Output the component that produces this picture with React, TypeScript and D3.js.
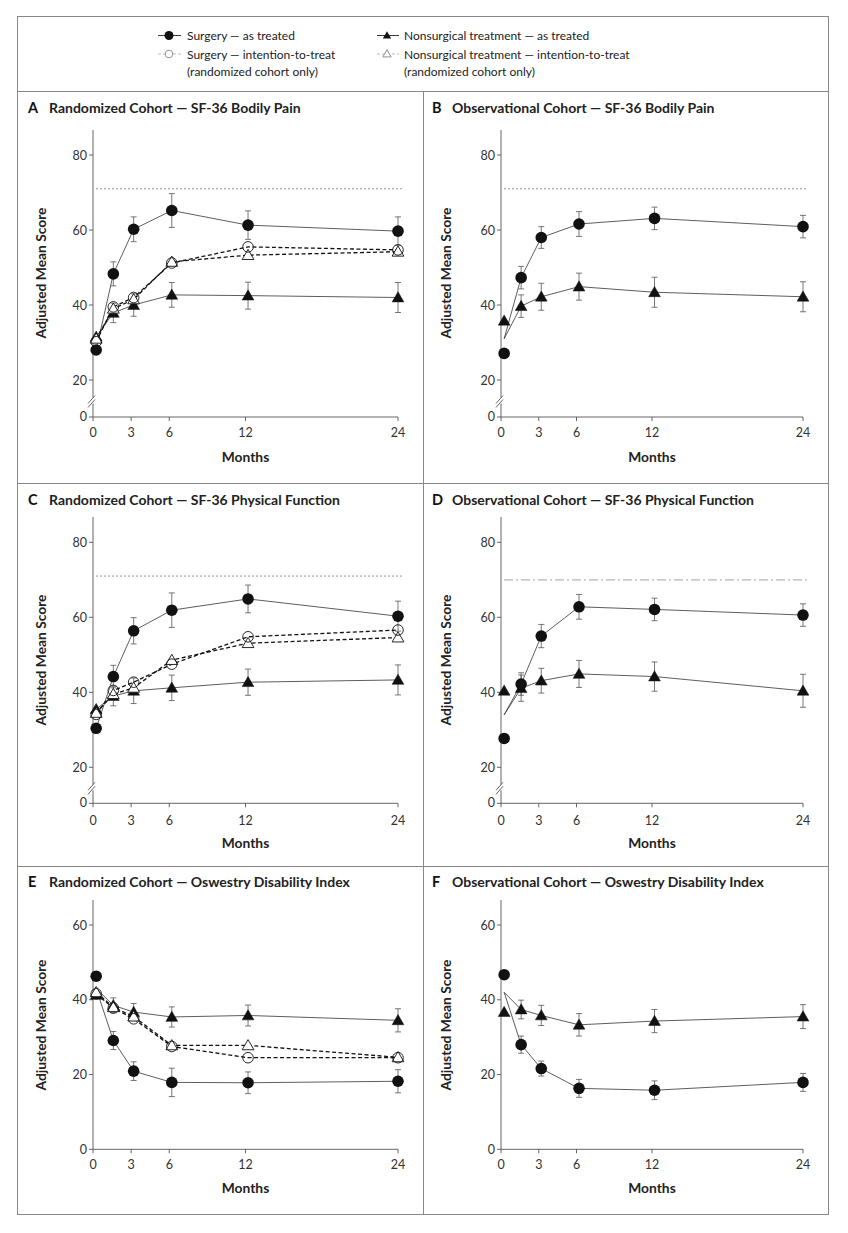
import React from 'react';
import * as d3 from 'd3';

// ---------- DATA ----------
const months = [0.25, 1.6, 3.2, 6.2, 12.2, 24];
const xTicks = [0, 3, 6, 12, 24];
const yTicksSF = [20, 40, 60, 80];
const yTicksODI = [0, 20, 40, 60];

const panelLetters = ['A', 'B', 'C', 'D', 'E', 'F'];
const panelTitles = [
  'Randomized Cohort — SF-36 Bodily Pain',
  'Observational Cohort — SF-36 Bodily Pain',
  'Randomized Cohort — SF-36 Physical Function',
  'Observational Cohort — SF-36 Physical Function',
  'Randomized Cohort — Oswestry Disability Index',
  'Observational Cohort — Oswestry Disability Index',
];

// A
const aSurgAT = [28, 48.3, 60.2, 65.2, 61.3, 59.7];
const aSurgATErr = [0, 3.2, 3.3, 4.5, 3.8, 3.8];
const aNonAT = [31.5, 37.9, 40, 42.7, 42.5, 42];
const aNonATErr = [0, 2.6, 3, 3.3, 3.6, 4];
const aSurgITT = [30.2, 39.5, 42, 51.2, 55.5, 54.7];
const aNonITT = [31, 39, 41.5, 51.5, 53.3, 54.2];
// B
const bSurgAT = [27.1, 47.3, 58, 61.6, 63.1, 60.9];
const bSurgATErr = [0, 3, 2.9, 3.3, 3, 3];
const bNonAT = [35.8, 39.7, 42.2, 44.9, 43.4, 42.2];
const bNonATErr = [0, 3, 3.6, 3.6, 4, 4];
// C
const cSurgAT = [30.4, 44.2, 56.4, 61.9, 64.9, 60.3];
const cSurgATErr = [0, 3, 3.5, 4.6, 3.7, 4];
const cNonAT = [35.5, 39, 40.4, 41.2, 42.7, 43.3];
const cNonATErr = [0, 2.6, 3.4, 3.4, 3.5, 4];
const cSurgITT = [34.1, 40.5, 42.7, 47.5, 54.8, 56.6];
const cNonITT = [34.5, 39.5, 41.2, 48.6, 53.1, 54.6];
// D
const dSurgAT = [27.7, 42.2, 55, 62.8, 62.1, 60.6];
const dSurgATErr = [0, 3, 3.1, 3.3, 3, 3];
const dNonAT = [40.4, 41.1, 43.1, 44.9, 44.2, 40.4];
const dNonATErr = [0, 3.5, 3.3, 3.6, 3.9, 4.4];
// E
const eSurgAT = [46.3, 29.1, 20.9, 17.9, 17.8, 18.2];
const eSurgATErr = [0, 2.4, 2.5, 3.8, 2.9, 3.1];
const eNonAT = [41.3, 38.5, 36.7, 35.4, 35.8, 34.5];
const eNonATErr = [0, 2, 2.3, 2.7, 2.8, 3.1];
const eSurgITT = [41.6, 37.8, 34.9, 27.5, 24.5, 24.5];
const eNonITT = [42, 38, 35.5, 27.8, 27.8, 24.6];
// F
const fSurgAT = [46.7, 28, 21.6, 16.3, 15.8, 17.9];
const fSurgATErr = [0, 2.3, 2, 2.4, 2.5, 2.4];
const fNonAT = [36.7, 37.4, 35.8, 33.3, 34.3, 35.5];
const fNonATErr = [0, 2.5, 2.7, 3, 3.1, 3.2];

// common starting value of the as-treated lines (observational panels)
const lineStartB = 31;
const lineStartD = 34;
const lineStartE = 43;
const lineStartF = 42;

const refLines = [71, 71, 71, 70, null, null];

// ---------- LAYOUT ----------
const FONT = 'Lato, "Open Sans", sans-serif';
const cols = [
  { x0: 93, x1: 398, letterX: 28, titleX: 49, ylabX: 46 },
  { x0: 501, x1: 803, letterX: 432, titleX: 452, ylabX: 451 },
];
const rows = [
  { kind: 'sf', y20: 380, y80: 155, y0: 417, top: 130, titleY: 113, tickLabY: 437, monthsY: 462, ylabY: 273 },
  { kind: 'sf', y20: 767.3, y80: 542.3, y0: 803.3, top: 517, titleY: 505, tickLabY: 825, monthsY: 848, ylabY: 660 },
  { kind: 'odi', y0: 1149.3, y60: 925, top: 900, titleY: 887, tickLabY: 1169, monthsY: 1193, ylabY: 1025 },
];

type Panel = {
  surgAT: number[]; surgErr: number[]; nonAT: number[]; nonErr: number[];
  surgITT?: number[]; nonITT?: number[]; start?: number;
};

const panels: Panel[] = [
  { surgAT: aSurgAT, surgErr: aSurgATErr, nonAT: aNonAT, nonErr: aNonATErr, surgITT: aSurgITT, nonITT: aNonITT },
  { surgAT: bSurgAT, surgErr: bSurgATErr, nonAT: bNonAT, nonErr: bNonATErr, start: lineStartB },
  { surgAT: cSurgAT, surgErr: cSurgATErr, nonAT: cNonAT, nonErr: cNonATErr, surgITT: cSurgITT, nonITT: cNonITT },
  { surgAT: dSurgAT, surgErr: dSurgATErr, nonAT: dNonAT, nonErr: dNonATErr, start: lineStartD },
  { surgAT: eSurgAT, surgErr: eSurgATErr, nonAT: eNonAT, nonErr: eNonATErr, surgITT: eSurgITT, nonITT: eNonITT, start: lineStartE },
  { surgAT: fSurgAT, surgErr: fSurgATErr, nonAT: fNonAT, nonErr: fNonATErr, start: lineStartF },
];

const triPath = d3.symbol(d3.symbolTriangle, 60)() as string;

function Tri({ x, y, open }: { x: number; y: number; open?: boolean }) {
  return (
    <path d={triPath} transform={`translate(${x},${y + 1})`}
      fill={open ? '#fff' : '#111'} stroke="#111" strokeWidth={open ? 0.9 : 0.5} />
  );
}

function PanelView({ idx }: { idx: number }) {
  const col = cols[idx % 2];
  const row = rows[Math.floor(idx / 2)];
  const p = panels[idx];
  const x = d3.scaleLinear().domain([0, 24]).range([col.x0, col.x1]);
  const y = row.kind === 'sf'
    ? d3.scaleLinear().domain([20, 80]).range([row.y20 as number, row.y80 as number])
    : d3.scaleLinear().domain([0, 60]).range([row.y0, row.y60 as number]);
  const yTicks = row.kind === 'sf' ? yTicksSF : yTicksODI;

  const line = d3.line<[number, number]>().x(d => x(d[0])).y(d => y(d[1]));
  const atPts = (vals: number[], start?: number): [number, number][] =>
    vals.map((v, i) => [months[i], i === 0 && start !== undefined ? start : v] as [number, number]);

  const ref = refLines[idx];
  const breakY = row.kind === 'sf' ? ((row.y20 as number) + row.y0) / 2 + 2 : 0;

  return (
    <g>
      {/* title */}
      <text x={col.letterX} y={row.titleY} fontFamily={FONT} fontWeight={700} fontSize={14.5} fill="#111">{panelLetters[idx]}</text>
      <text x={col.titleX} y={row.titleY} fontFamily={FONT} fontWeight={700} fontSize={14} fill="#222">{panelTitles[idx]}</text>

      {/* y axis */}
      {row.kind === 'sf' ? (
        <g>
          <line x1={col.x0} x2={col.x0} y1={row.top} y2={breakY - 3} stroke="#555" strokeWidth={0.9} />
          <line x1={col.x0} x2={col.x0} y1={breakY + 3} y2={row.y0} stroke="#555" strokeWidth={0.9} />
          <line x1={col.x0 - 5} y1={breakY + 3} x2={col.x0 + 2} y2={breakY - 5} stroke="#555" strokeWidth={0.9} />
          <line x1={col.x0 - 5} y1={breakY + 7} x2={col.x0 + 2} y2={breakY - 1} stroke="#555" strokeWidth={0.9} />
          <line x1={col.x0 - 4} x2={col.x0} y1={row.y0} y2={row.y0} stroke="#555" strokeWidth={0.9} />
          <text x={col.x0 - 6} y={row.y0 + 4} textAnchor="end" fontFamily={FONT} fontSize={12.5} fill="#333">0</text>
        </g>
      ) : (
        <line x1={col.x0} x2={col.x0} y1={row.top} y2={row.y0} stroke="#555" strokeWidth={0.9} />
      )}
      {yTicks.map(t => (
        <g key={t}>
          <line x1={col.x0 - 4} x2={col.x0} y1={y(t)} y2={y(t)} stroke="#555" strokeWidth={0.9} />
          <text x={col.x0 - 6} y={y(t) + 4.5} textAnchor="end" fontFamily={FONT} fontSize={12.5} fill="#333">{t}</text>
        </g>
      ))}
      <text transform={`translate(${col.ylabX},${row.ylabY}) rotate(-90)`} textAnchor="middle"
        fontFamily={FONT} fontWeight={700} fontSize={13.8} fill="#222">Adjusted Mean Score</text>

      {/* x axis */}
      <line x1={col.x0} x2={col.x1} y1={row.y0} y2={row.y0} stroke="#555" strokeWidth={0.9} />
      {xTicks.map(t => (
        <g key={t}>
          <line x1={x(t)} x2={x(t)} y1={row.y0} y2={row.y0 + 4} stroke="#555" strokeWidth={0.9} />
          <text x={x(t)} y={row.tickLabY} textAnchor="middle" fontFamily={FONT} fontSize={12.5} fill="#333">{t}</text>
        </g>
      ))}
      <text x={(col.x0 + col.x1) / 2} y={row.monthsY} textAnchor="middle" fontFamily={FONT} fontWeight={700} fontSize={13.8} fill="#222">Months</text>

      {/* reference line */}
      {ref !== null && (
        idx === 3 ? (
          <line x1={col.x0 + 3} x2={col.x1 + 5} y1={y(ref)} y2={y(ref)} stroke="#b5b5b5" strokeWidth={1.3} strokeDasharray="9 3 2 3" />
        ) : (
          <line x1={col.x0 + 3} x2={col.x1 + 5} y1={y(ref)} y2={y(ref)} stroke="#666" strokeWidth={0.7} strokeDasharray="2 2" />
        )
      )}

      {/* as-treated lines */}
      <path d={line(atPts(p.nonAT, p.start)) as string} fill="none" stroke="#333" strokeWidth={0.8} />
      <path d={line(atPts(p.surgAT, p.start)) as string} fill="none" stroke="#333" strokeWidth={0.8} />

      {/* error bars */}
      {[{ v: p.surgAT, e: p.surgErr }, { v: p.nonAT, e: p.nonErr }].map((s, si) => (
        <g key={si}>
          {s.v.map((v, i) => s.e[i] > 0 ? (
            <g key={i} stroke="#555" strokeWidth={0.8}>
              <line x1={x(months[i])} x2={x(months[i])} y1={y(v - s.e[i])} y2={y(v + s.e[i])} />
              <line x1={x(months[i]) - 3} x2={x(months[i]) + 3} y1={y(v + s.e[i])} y2={y(v + s.e[i])} />
              <line x1={x(months[i]) - 3} x2={x(months[i]) + 3} y1={y(v - s.e[i])} y2={y(v - s.e[i])} />
            </g>
          ) : null)}
        </g>
      ))}

      {/* ITT lines */}
      {p.nonITT && <path d={line(atPts(p.nonITT)) as string} fill="none" stroke="#111" strokeWidth={1.3} strokeDasharray="4 2.5" />}
      {p.surgITT && <path d={line(atPts(p.surgITT)) as string} fill="none" stroke="#111" strokeWidth={1.3} strokeDasharray="4 2.5" />}

      {/* markers */}
      {p.nonAT.map((v, i) => <Tri key={'n' + i} x={x(months[i])} y={y(v)} />)}
      {p.surgAT.map((v, i) => <circle key={'s' + i} cx={x(months[i])} cy={y(v)} r={5.8} fill="#111" />)}
      {p.nonITT && p.nonITT.map((v, i) => <Tri key={'ni' + i} x={x(months[i])} y={y(v)} open />)}
      {p.surgITT && p.surgITT.map((v, i) => <circle key={'si' + i} cx={x(months[i])} cy={y(v)} r={5.3} fill="none" stroke="#111" strokeWidth={0.9} />)}
    </g>
  );
}

function Legend() {
  const t = { fontFamily: FONT, fontSize: 12, fill: '#222' } as const;
  return (
    <g>
      <line x1={158} x2={181} y1={35.5} y2={35.5} stroke="#222" strokeWidth={0.9} />
      <circle cx={169} cy={35.5} r={4.5} fill="#111" />
      <text x={187} y={40} {...t}>Surgery — as treated</text>

      <line x1={158} x2={181} y1={54} y2={54} stroke="#bbb" strokeWidth={1} strokeDasharray="3 2" />
      <circle cx={169} cy={54} r={3.8} fill="#fff" stroke="#777" strokeWidth={0.8} />
      <text x={187} y={58.5} {...t}>Surgery — intention-to-treat</text>
      <text x={187} y={76} {...t}>(randomized cohort only)</text>

      <line x1={377} x2={399} y1={35.5} y2={35.5} stroke="#222" strokeWidth={0.9} />
      <path d={d3.symbol(d3.symbolTriangle, 30)() as string} transform="translate(387,36)" fill="#111" />
      <text x={404} y={40} {...t}>Nonsurgical treatment — as treated</text>

      <line x1={377} x2={399} y1={54} y2={54} stroke="#bbb" strokeWidth={1} strokeDasharray="3 2" />
      <path d={d3.symbol(d3.symbolTriangle, 30)() as string} transform="translate(387,54.5)" fill="#fff" stroke="#777" strokeWidth={0.8} />
      <text x={404} y={58.5} {...t}>Nonsurgical treatment — intention-to-treat</text>
      <text x={404} y={76} {...t}>(randomized cohort only)</text>
    </g>
  );
}

export default function App() {
  return (
    <svg width={848} height={1233} style={{ position: 'absolute', left: 0, top: 0, background: '#fff' }}>
      <rect x={0} y={0} width={848} height={1233} fill="#fff" />
      {/* frame */}
      <rect x={17.5} y={16.5} width={811} height={1198} fill="none" stroke="#888" strokeWidth={1} />
      <line x1={17.5} x2={828.5} y1={91.5} y2={91.5} stroke="#888" strokeWidth={1} />
      <line x1={17.5} x2={828.5} y1={483.5} y2={483.5} stroke="#888" strokeWidth={1} />
      <line x1={17.5} x2={828.5} y1={866.5} y2={866.5} stroke="#888" strokeWidth={1} />
      <line x1={423.5} x2={423.5} y1={91.5} y2={1214.5} stroke="#888" strokeWidth={1} />
      <Legend />
      {[0, 1, 2, 3, 4, 5].map(i => <PanelView key={i} idx={i} />)}
    </svg>
  );
}
